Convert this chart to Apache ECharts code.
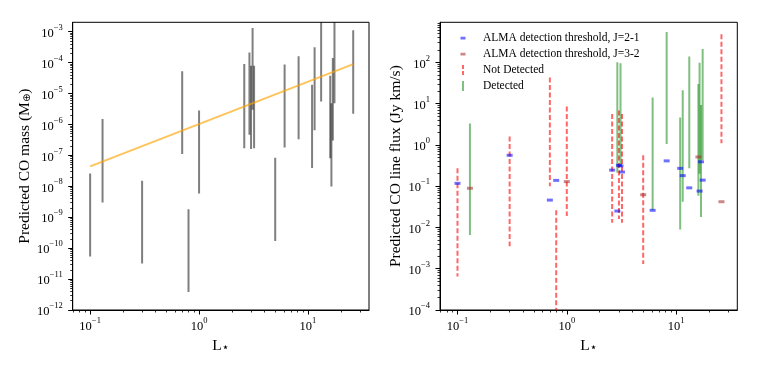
<!DOCTYPE html>
<html>
<head>
<meta charset="utf-8">
<script src="https://cdn.jsdelivr.net/npm/echarts@6/dist/echarts.min.js"></script>
<style>
  html, body { margin: 0; padding: 0; background: #fff; }
  #chart { width: 759px; height: 368px; }
</style>
</head>
<body>
<div id="chart"></div>
<script>
// stellar luminosity of each source (L_sun), same stars in both panels
var lum = [0.1, 0.13, 0.3, 0.7, 0.8, 1.0, 2.6, 2.9, 3.0, 3.1, 3.2, 5.0, 6.1, 8.2,
           10.9, 11.5, 13.2, 16.0, 16.4, 16.9, 17.5, 26];

// left panel: predicted CO mass range (M_earth)
var massHi = [2.6e-8, 1.5e-6, 1.5e-8, 5.2e-5, 1.8e-9, 2.8e-6, 8.9e-5, 2.1e-4, 7.9e-5, 1.3e-3, 7.9e-5,
              8.3e-8, 8.7e-5, 1.6e-4, 1.9e-5, 3.1e-4, 2.6e-3, 3.7e-5, 4.8e-6, 1.4e-4, 2.3e-3, 1.1e-3];
var massLo = [5.4e-11, 3.0e-9, 3.2e-11, 1.1e-7, 3.8e-12, 5.8e-9, 1.7e-7, 4.6e-7, 1.6e-7, 3.0e-6, 1.7e-7,
              1.7e-10, 1.8e-7, 3.3e-7, 3.9e-8, 6.5e-7, 5.5e-6, 8.1e-8, 9.8e-9, 3.0e-7, 4.8e-6, 2.2e-6];
// fitted relation (orange line)
var fitLum = [0.1, 26];
var fitMass = [4.4e-8, 8.9e-5];

// right panel: predicted CO line flux range (Jy km/s)
var fluxHi = [0.27, 3.3, 1.6, 43, 0.026, 8.5, 5.6, 100, 6.8, 95, 5.6,
              0.56, 14, 540, 4.6, 21, 138, 30, 98, 9.3, 210, 480];
var fluxLo = [6.5e-4, 6.6e-3, 3.5e-3, 0.1, 6.3e-5, 0.019, 0.013, 0.21, 0.016, 0.30, 0.013,
              1.3e-3, 0.026, 1.05, 8.9e-3, 0.042, 0.27, 0.059, 0.20, 0.018, 0.43, 1.1];
var detected = [0, 1, 0, 0, 0, 0, 0, 1, 0, 1, 0, 0, 1, 1, 1, 1, 1, 1, 1, 1, 1, 0];
// ALMA detection threshold and which transition it refers to
var threshold = [0.117, 0.089, 0.56, 0.046, 0.138, 0.129, 0.245, 0.025, 0.32, 0.31, 0.22,
                 0.062, 0.026, 0.41, 0.27, 0.18, 0.091, 0.51, 0.076, 0.39, 0.14, 0.042];
var transition = ['2-1', '3-2', '2-1', '2-1', '2-1', '3-2', '2-1', '2-1', '2-1', '2-1', '2-1',
                  '3-2', '2-1', '2-1', '2-1', '2-1', '2-1', '3-2', '2-1', '2-1', '2-1', '3-2'];

var xRange = [-1.16, 1.56];       // log10 L
var massRange = [-12, -2.7];      // log10 M
var fluxRange = [-4, 2.97];       // log10 flux

var FONT = 'Liberation Serif';
var lg = Math.log10;

function decades(r) {
  var out = [];
  for (var e = Math.ceil(r[0]); e <= Math.floor(r[1]); e++) out.push(e);
  return out;
}
function minors(r) {
  var out = [];
  for (var e = Math.floor(r[0]) - 1; e <= Math.ceil(r[1]); e++) {
    for (var k = 2; k < 10; k++) {
      var v = e + lg(k);
      if (v > r[0] && v < r[1]) out.push(v);
    }
  }
  return out;
}
function powLabel(v) {
  var e = Math.round(v);
  return '{b|10}{s|' + (e < 0 ? '\u2212' + (-e) : e) + '}';
}
var tickRich = {
  b: { fontFamily: FONT, fontSize: 12.5, color: '#000', lineHeight: 17, verticalAlign: 'bottom' },
  s: { fontFamily: FONT, fontSize: 8.5, color: '#000', lineHeight: 8, verticalAlign: 'top' }
};
var nameRich = {
  t: { fontFamily: FONT, fontSize: 15.5, color: '#000', lineHeight: 20, verticalAlign: 'bottom' },
  sb: { fontFamily: 'DejaVu Sans', fontSize: 10, color: '#000', lineHeight: 10, verticalAlign: 'bottom' },
  st: { fontFamily: 'DejaVu Sans', fontSize: 12, color: '#000', lineHeight: 12, verticalAlign: 'bottom' }
};

function majorAxis(grid, range, name, gap, pos, margin) {
  return {
    type: 'value', gridIndex: grid, min: range[0], max: range[1], position: pos,
    name: name, nameLocation: 'middle', nameGap: gap,
    nameTextStyle: { rich: nameRich },
    axisLine: { show: true, onZero: false, lineStyle: { color: '#000', width: 1 } },
    axisTick: { show: true, length: 4.5, customValues: decades(range), lineStyle: { color: '#000', width: 1 } },
    axisLabel: { customValues: decades(range), formatter: powLabel, rich: tickRich, margin: margin },
    splitLine: { show: false }
  };
}
function minorAxis(grid, range, pos) {
  return {
    type: 'value', gridIndex: grid, min: range[0], max: range[1], position: pos,
    axisLine: { show: false, onZero: false },
    axisTick: { show: true, length: 2.5, customValues: minors(range), lineStyle: { color: '#000', width: 0.8 } },
    axisLabel: { show: false },
    splitLine: { show: false }
  };
}

function errBar(color, dash) {
  return function (params, api) {
    var a = api.coord([api.value(0), api.value(1)]);
    var b = api.coord([api.value(0), api.value(2)]);
    return {
      type: 'line',
      shape: { x1: a[0], y1: a[1], x2: b[0], y2: b[1] },
      style: { stroke: color, lineWidth: 2, lineDash: dash || null }
    };
  };
}

var massBars = lum.map(function (l, i) { return [lg(l), lg(massLo[i]), lg(massHi[i])]; });
var fitLine = fitLum.map(function (l, i) { return [lg(l), lg(fitMass[i])]; });
var notDet = [], det = [], t21 = [], t32 = [];
lum.forEach(function (l, i) {
  var row = [lg(l), lg(fluxHi[i]), lg(fluxLo[i])];
  (detected[i] ? det : notDet).push(row);
  (transition[i] === '2-1' ? t21 : t32).push([lg(l), lg(threshold[i])]);
});

var C_RED = 'rgba(255,0,0,0.6)';
var C_GREEN = 'rgba(0,128,0,0.5)';
var C_BLUE = 'rgba(0,0,255,0.7)';
var C_BROWN = 'rgba(165,42,42,0.7)';

// legend icons drawn in an 18x10 box (corner specks fix the box size)
var box = 'M0,0h0.01v0.01h-0.01z M17.99,9.99h0.01v0.01h-0.01z ';
var iconMark = 'path://' + box + 'M0.5,3.8h5v2.6h-5z';
var iconDash = 'path://' + box + 'M2,0h2v4h-2z M2,6h2v4h-2z';
var iconLine = 'path://' + box + 'M2,0h2v10h-2z';

var chart = echarts.init(document.getElementById('chart'));
chart.setOption({
  animation: false,
  backgroundColor: '#fff',
  textStyle: { fontFamily: FONT },
  grid: [
    { left: 72.7, top: 22.3, width: 296.3, height: 287.7, show: true, borderColor: '#000', borderWidth: 1 },
    { left: 440, top: 22.3, width: 297.3, height: 287.7, show: true, borderColor: '#000', borderWidth: 1 }
  ],
  xAxis: [
    majorAxis(0, xRange, '{t|L}{st|\u22c6}', 23, 'bottom', 6),
    minorAxis(0, xRange, 'bottom'),
    majorAxis(1, xRange, '{t|L}{st|\u22c6}', 23, 'bottom', 6),
    minorAxis(1, xRange, 'bottom')
  ],
  yAxis: [
    majorAxis(0, massRange, '{t|Predicted CO mass (M}{sb|\u2295}{t|)}', 40, 'left', 10),
    minorAxis(0, massRange, 'left'),
    majorAxis(1, fluxRange, '{t|Predicted CO line flux (Jy km/s)}', 36, 'left', 10),
    minorAxis(1, fluxRange, 'left')
  ],
  legend: {
    orient: 'vertical', left: 460, top: 31, padding: 0,
    itemWidth: 18, itemHeight: 10, itemGap: 2,
    selectedMode: false,
    textStyle: { fontFamily: FONT, fontSize: 11.5, lineHeight: 14, color: '#000' },
    data: [
      { name: 'ALMA detection threshold, J=2-1', icon: iconMark },
      { name: 'ALMA detection threshold, J=3-2', icon: iconMark },
      { name: 'Not Detected', icon: iconDash },
      { name: 'Detected', icon: iconLine }
    ]
  },
  series: [
    {
      type: 'custom', name: 'mass', xAxisIndex: 0, yAxisIndex: 0, clip: true,
      renderItem: errBar('rgba(0,0,0,0.5)'), data: massBars
    },
    {
      type: 'line', name: 'fit', xAxisIndex: 0, yAxisIndex: 0, showSymbol: false, symbol: 'none',
      lineStyle: { color: 'rgba(255,165,0,0.65)', width: 2 }, data: fitLine, z: 5
    },
    {
      type: 'custom', name: 'Not Detected', xAxisIndex: 2, yAxisIndex: 2, clip: true,
      itemStyle: { color: C_RED }, renderItem: errBar(C_RED, [5, 2.5]), data: notDet
    },
    {
      type: 'custom', name: 'Detected', xAxisIndex: 2, yAxisIndex: 2, clip: true,
      itemStyle: { color: C_GREEN }, renderItem: errBar(C_GREEN), data: det
    },
    {
      type: 'scatter', name: 'ALMA detection threshold, J=2-1', xAxisIndex: 2, yAxisIndex: 2,
      symbol: 'rect', symbolSize: [6, 3], itemStyle: { color: C_BLUE }, data: t21, z: 5
    },
    {
      type: 'scatter', name: 'ALMA detection threshold, J=3-2', xAxisIndex: 2, yAxisIndex: 2,
      symbol: 'rect', symbolSize: [6, 3], itemStyle: { color: C_BROWN }, data: t32, z: 5
    }
  ]
});
</script>
</body>
</html>
